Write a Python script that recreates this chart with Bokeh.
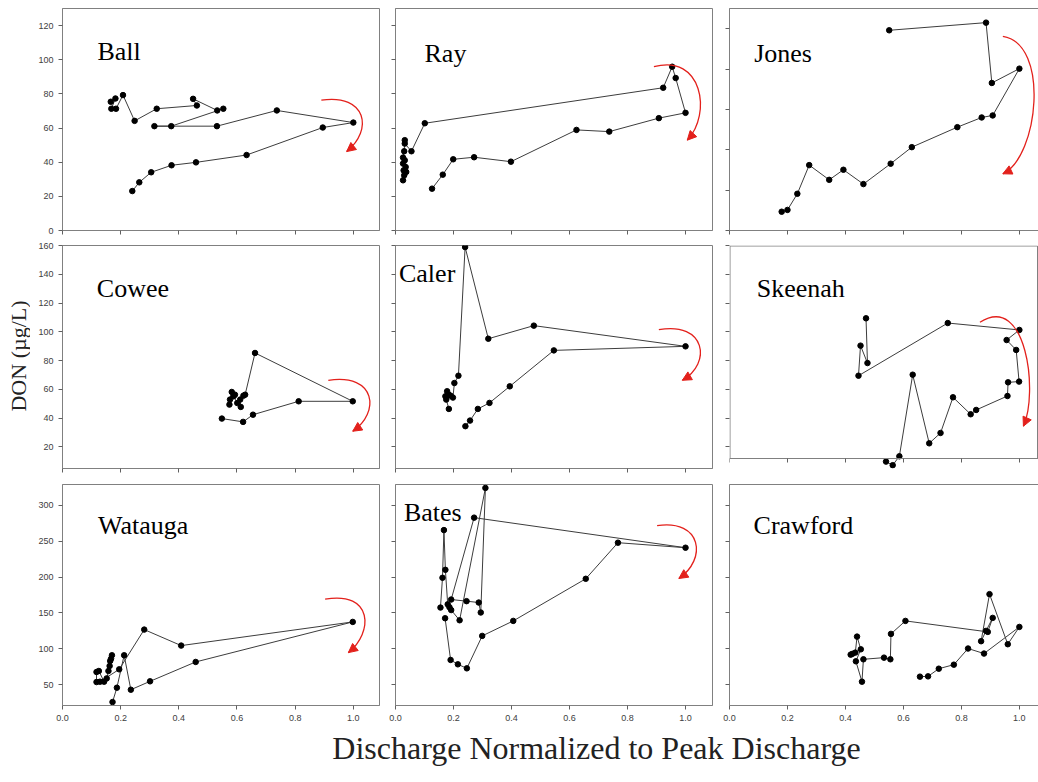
import math
from bokeh.plotting import figure
from bokeh.layouts import gridplot, column, row
from bokeh.models import (Label, Arrow, NormalHead, FixedTicker, Range1d,
                          CustomLabelingPolicy)
from bokeh.embed import file_html
from bokeh.resources import INLINE

# ---- Discharge (normalized to peak) and DON (ug/L) for each storm hydrograph ----
ball_q = [0.166, 0.182, 0.168, 0.184, 0.208, 0.248, 0.324, 0.462, 0.449, 0.532, 0.553,
          0.374, 0.316, 0.531, 0.737, 1.000, 0.895, 0.633, 0.459, 0.375, 0.305, 0.264, 0.240]
ball_don = [75.4, 77.3, 71.3, 71.3, 79.3, 64.2, 71.3, 73.2, 77.1, 70.3, 71.3,
            61.1, 61.1, 61.1, 70.3, 63.2, 60.3, 44.2, 39.9, 38.2, 34.1, 28.2, 23.1]

ray_q = [0.026, 0.030, 0.037, 0.028, 0.035, 0.026, 0.032, 0.026, 0.030, 0.032, 0.032, 0.055,
         0.101, 0.923, 0.954, 0.966, 1.000, 0.908, 0.737, 0.624, 0.398, 0.271, 0.199, 0.163, 0.126]
ray_don = [29.4, 32.3, 34.3, 35.2, 37.2, 39.2, 41.1, 42.7, 46.4, 52.9, 50.9, 46.4,
           62.8, 83.6, 95.9, 89.3, 68.9, 65.8, 57.9, 58.9, 40.3, 42.9, 41.7, 32.7, 24.5]

jones_q = [0.551, 0.885, 0.905, 1.000, 0.908, 0.870, 0.786, 0.629, 0.556, 0.462, 0.393,
           0.344, 0.275, 0.234, 0.200, 0.180]
jones_don = [99.2, 103.0, 73.1, 80.2, 57.0, 56.0, 51.2, 41.3, 33.1, 23.0, 30.1,
             25.1, 32.4, 18.2, 10.2, 9.3]

cowee_q = [0.574, 0.576, 0.582, 0.593, 0.588, 0.601, 0.613, 0.611, 0.622, 0.628, 0.662,
           0.998, 0.812, 0.655, 0.621, 0.548]
cowee_don = [49.4, 52.9, 58.2, 56.3, 55.2, 50.5, 47.8, 52.9, 55.6, 56.3, 85.3,
             51.7, 51.7, 42.4, 37.4, 39.7]

caler_q = [0.184, 0.175, 0.172, 0.178, 0.184, 0.190, 0.198, 0.203, 0.217, 0.240, 0.320,
           0.477, 1.000, 0.546, 0.394, 0.324, 0.284, 0.257, 0.241]
caler_don = [46.4, 52.9, 55.2, 58.7, 56.3, 55.6, 54.3, 64.4, 69.5, 158.9, 95.2,
             104.3, 89.9, 87.1, 62.1, 50.6, 46.4, 38.3, 34.4]

skeenah_q = [0.471, 0.476, 0.452, 0.445, 0.753, 1.000, 0.956, 0.989, 0.999, 0.961, 0.959,
             0.851, 0.832, 0.771, 0.728, 0.689, 0.632, 0.586, 0.563, 0.540]
skeenah_don = [109.4, 78.3, 90.4, 69.5, 106.1, 101.3, 94.3, 87.4, 65.4, 64.9, 55.4,
               45.7, 42.7, 54.5, 29.7, 22.5, 70.2, 13.5, 7.3, 9.8]

watauga_q = [0.170, 0.167, 0.164, 0.162, 0.158, 0.152, 0.143, 0.125, 0.117, 0.117, 0.129,
             0.195, 0.281, 0.408, 0.998, 0.458, 0.301, 0.235, 0.212, 0.187, 0.172]
watauga_don = [91.0, 86.3, 83.1, 76.1, 69.1, 58.8, 54.2, 69.1, 67.7, 53.7, 54.2,
               71.4, 126.8, 104.5, 137.5, 81.7, 54.7, 43.0, 91.0, 45.8, 25.8]

bates_q = [0.155, 0.162, 0.167, 0.172, 0.180, 0.186, 0.192, 0.221, 0.310, 0.294, 0.287, 0.245,
           0.192, 0.271, 1.000, 0.767, 0.656, 0.406, 0.299, 0.246, 0.215, 0.190, 0.171]
bates_don = [157.5, 199.0, 265.5, 210.1, 162.0, 158.0, 154.0, 139.8, 324.2, 150.6, 164.5, 166.4,
             168.7, 282.8, 240.9, 247.9, 197.6, 138.9, 118.0, 72.8, 78.4, 84.5, 142.6]

crawford_q = [0.418, 0.424, 0.434, 0.440, 0.453, 0.436, 0.457, 0.462, 0.533, 0.555, 0.557,
              0.607, 0.891, 0.908, 0.885, 0.868, 0.897, 0.960, 1.000, 0.878, 0.823, 0.774,
              0.722, 0.685, 0.657]
crawford_don = [91.9, 93.0, 94.7, 117.0, 99.3, 82.6, 54.2, 85.4, 87.7, 85.4, 120.8,
                138.9, 123.6, 143.1, 125.0, 110.6, 176.2, 106.4, 130.5, 93.4, 100.4, 77.9,
                72.3, 61.6, 61.2]

site_names = ["Ball", "Ray", "Jones", "Cowee", "Caler", "Skeenah", "Watauga", "Bates", "Crawford"]
x_ticks = [0.0, 0.2, 0.4, 0.6, 0.8, 1.0]
row_y_ticks = [[0, 20, 40, 60, 80, 100, 120], [20, 40, 60, 80, 100, 120, 140, 160],
               [50, 100, 150, 200, 250, 300]]
jones_y_ticks = [0, 20, 40, 60, 80, 100]

series = [(ball_q, ball_don), (ray_q, ray_don), (jones_q, jones_don),
          (cowee_q, cowee_don), (caler_q, caler_don), (skeenah_q, skeenah_don),
          (watauga_q, watauga_don), (bates_q, bates_don), (crawford_q, crawford_don)]

# ---- layout of the 3x3 grid (pixels) ----
LEFT_STRIP = 30
cols = [dict(left=32, fw=317, right=7, xmax=1.09),
        dict(left=7, fw=317, right=8, xmax=1.093),
        dict(left=8, fw=309, right=2, xmax=1.066)]
rows = [dict(top=8, fh=222, bottom=7, yr=(0, 130)),
        dict(top=7, fh=223, bottom=7, yr=(5, 160)),
        dict(top=8, fh=221, bottom=25, yr=(21, 329))]
SKEENAH_AXIS = 12.2   # Skeenah's x-axis sits above the bottom of its panel

# site label anchor (left, baseline) in data units
label_pos = [(0.120, 104.7), (0.100, 103.8), (0.085, 87.6),
             (0.118, 130.4), (0.012, 140.8), (0.094, 130.4),
             (0.122, 271.6), (0.029, 290.2), (0.083, 271.6)]

# clockwise hysteresis arrows: start, control 1, control 2, end
arcs = {
    "Ball": ((0.890, 76.35), (1.046, 80.3), (1.069, 58.7), (0.977, 46.2)),
    "Ray": ((0.891, 95.9), (1.057, 103.7), (1.092, 68.5), (1.006, 52.9)),
    "Jones": ((0.943, 96.2), (1.106, 92.6), (1.066, 36.4), (0.943, 28.1)),
    "Cowee": ((0.914, 66.3), (1.080, 71.4), (1.092, 43.6), (0.998, 30.9)),
    "Caler": ((0.908, 101.5), (1.069, 107.3), (1.092, 78.3), (0.989, 66.3)),
    "Skeenah": ((0.864, 106.6), (1.025, 127.5), (1.066, 57.5), (1.014, 34.4)),
    "Watauga": ((0.903, 169.2), (1.069, 180.8), (1.069, 122.6), (0.983, 94.7)),
    "Bates": ((0.902, 271.6), (1.057, 280.9), (1.075, 225.0), (0.977, 198.0)),
}

RED = "#e3211c"
FRAME = "#808080"
TICK_FONT = "Liberation Sans"
SERIF = "Liberation Serif"

no_labels = CustomLabelingPolicy(code="return new Set()")

grid = []
for r, rs in enumerate(rows):
    row_figs = []
    for c, cs in enumerate(cols):
        i = r * 3 + c
        name = site_names[i]
        q, don = series[i]
        yr = (0, 110) if name == "Jones" else rs["yr"]
        yt = jones_y_ticks if name == "Jones" else row_y_ticks[r]
        p = figure(frame_width=cs["fw"], frame_height=rs["fh"],
                   min_border_left=cs["left"], min_border_right=cs["right"],
                   min_border_top=rs["top"], min_border_bottom=rs["bottom"],
                   x_range=Range1d(0, cs["xmax"]), y_range=Range1d(*yr),
                   output_backend="svg", toolbar_location=None)
        p.grid.visible = False
        p.outline_line_color = FRAME
        p.background_fill_color = "white"
        p.border_fill_color = "white"

        for ax, ticks, show in ((p.xaxis, x_ticks, r == 2), (p.yaxis, yt, c == 0)):
            ax.ticker = FixedTicker(ticks=ticks)
            ax.axis_line_color = FRAME
            ax.major_tick_line_color = "#606060"
            ax.major_tick_out = 4
            ax.major_tick_in = 0
            ax.minor_tick_out = 0
            ax.minor_tick_in = 0
            ax.major_label_text_font = TICK_FONT
            ax.major_label_text_color = "#404040"
            if show:
                ax.major_label_text_font_size = "9px"
                ax.major_label_standoff = 5
            else:
                ax.major_label_text_font_size = "1px"
                ax.major_label_standoff = 0
                ax.major_label_policy = no_labels
        if r == 2:
            p.xaxis.major_label_overrides = {t: "%.1f" % t for t in x_ticks}

        if name == "Skeenah":
            # box drawn by hand so the x-axis can sit above the panel bottom
            p.outline_line_color = None
            p.yaxis.axis_line_color = None
            p.xaxis.fixed_location = SKEENAH_AXIS
            x_lo = 0.5 / 290
            x_hi = cs["xmax"] - 1.0 / 290
            y_hi = yr[1] - 0.5 / 1.439
            p.segment(x0=[x_lo, x_lo, x_hi], y0=[SKEENAH_AXIS, y_hi, y_hi],
                      x1=[x_lo, x_hi, x_hi], y1=[y_hi, y_hi, SKEENAH_AXIS],
                      line_color=FRAME, line_width=1)

        p.line(q, don, line_color="#3c3c3c", line_width=1)
        p.scatter(q, don, size=5.5, color="black")

        lx, ly = label_pos[i]
        p.add_layout(Label(x=lx, y=ly, text=name, text_font=SERIF, text_font_size="26px",
                           text_baseline="alphabetic", text_align="left", text_color="black"))

        if name in arcs:
            s, c0, c1, e = arcs[name]
            p.bezier(x0=[s[0]], y0=[s[1]], x1=[e[0]], y1=[e[1]],
                     cx0=[c0[0]], cy0=[c0[1]], cx1=[c1[0]], cy1=[c1[1]],
                     line_color=RED, line_width=1.3)
            bx = e[0] + 0.04 * (c1[0] - e[0])
            by = e[1] + 0.04 * (c1[1] - e[1])
            p.add_layout(Arrow(end=NormalHead(size=9, fill_color=RED, line_color=RED),
                               x_start=bx, y_start=by, x_end=e[0], y_end=e[1],
                               line_color=RED, line_width=1.3))
        row_figs.append(p)
    grid.append(row_figs)

grid_height = sum(rs["top"] + rs["fh"] + rs["bottom"] for rs in rows)


def text_strip(width, height):
    s = figure(width=width, height=height, x_range=Range1d(0, width),
               y_range=Range1d(0, height), min_border=0,
               output_backend="svg", toolbar_location=None)
    s.axis.visible = False
    s.grid.visible = False
    s.outline_line_color = None
    return s


# shared y-axis title on the left
left = text_strip(LEFT_STRIP, grid_height)
left.add_layout(Label(x=18, y=grid_height - 355.5, text="DON (\u00b5g/L)", angle=math.pi / 2,
                      text_font=SERIF, text_font_size="22px", text_color="#222222",
                      text_align="center", text_baseline="middle", text_line_height=1.0))

# shared x-axis title underneath
bottom = text_strip(1037, 782 - grid_height)
bottom.add_layout(Label(x=596, y=782 - 745, text="Discharge Normalized to Peak Discharge",
                        text_font=SERIF, text_font_size="32px", text_color="#222222",
                        text_align="center", text_baseline="middle", text_line_height=1.0))

layout = column(row(left, gridplot(grid, toolbar_location=None)), bottom)
open("out.html", "w").write(file_html(layout, INLINE))
